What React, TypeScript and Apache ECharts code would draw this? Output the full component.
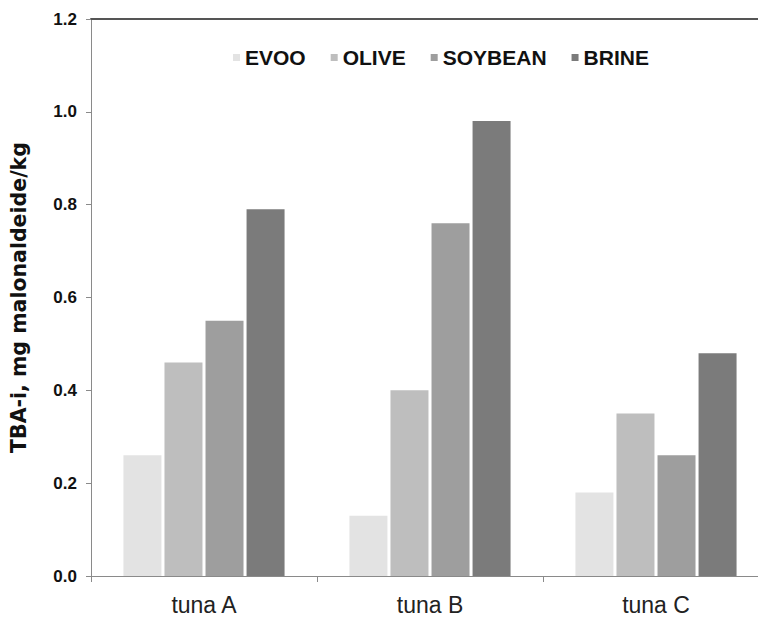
import React, { useEffect, useRef } from "react";
import * as echarts from "echarts";

const categories = ["tuna A", "tuna B", "tuna C"];
const seriesNames = ["EVOO", "OLIVE", "SOYBEAN", "BRINE"];
const evoo = [0.26, 0.13, 0.18];
const olive = [0.46, 0.4, 0.35];
const soybean = [0.55, 0.76, 0.26];
const brine = [0.79, 0.98, 0.48];
const colors = ["#e3e3e3", "#bebebe", "#9e9e9e", "#7b7b7b"];
const yTicks = [0, 0.2, 0.4, 0.6, 0.8, 1.0, 1.2];

export default function App() {
  const ref = useRef<HTMLDivElement>(null);
  useEffect(() => {
    if (!ref.current) return;
    const chart = echarts.init(ref.current, undefined, { renderer: "svg" });
    const values = [evoo, olive, soybean, brine];
    chart.setOption({
      animation: false,
      backgroundColor: "#ffffff",
      textStyle: { fontFamily: "Liberation Sans" },
      grid: {
        left: 91,
        top: 19,
        bottom: 41,
        right: -11,
        containLabel: false,
        outerBoundsMode: "none",
      },
      legend: {
        data: seriesNames,
        left: 228,
        top: 42,
        icon: "rect",
        itemWidth: 7,
        itemHeight: 7,
        itemGap: 25,
        textStyle: {
          fontFamily: "Liberation Sans",
          fontWeight: "bold",
          fontSize: 21,
          color: "#111",
        },
      },
      xAxis: [
        {
          type: "category",
          data: categories,
          position: "bottom",
          axisLine: { lineStyle: { color: "#8a8a8a", width: 1 } },
          axisTick: { show: true, length: 6, lineStyle: { color: "#8a8a8a" } },
          axisLabel: {
            fontFamily: "Liberation Sans",
            fontSize: 23,
            color: "#222",
            margin: 17,
          },
        },
        {
          type: "category",
          data: categories,
          position: "top",
          axisLine: { lineStyle: { color: "#555", width: 2 } },
          axisTick: { show: false },
          axisLabel: { show: false },
        },
      ],
      yAxis: {
        type: "value",
        min: yTicks[0],
        max: yTicks[yTicks.length - 1],
        interval: 0.2,
        name: "TBA-i, mg malonaldeide/kg",
        nameLocation: "middle",
        nameGap: 62,
        nameTextStyle: {
          fontFamily: "DejaVu Sans",
          fontWeight: "bold",
          fontSize: 20.5,
          color: "#111",
        },
        axisLine: { show: true, lineStyle: { color: "#8a8a8a", width: 1 } },
        axisTick: { show: true, length: 5, lineStyle: { color: "#8a8a8a" } },
        splitLine: { show: false },
        axisLabel: {
          fontFamily: "Liberation Sans",
          fontWeight: "bold",
          fontSize: 17,
          color: "#111",
          margin: 14,
          formatter: (v: number) => v.toFixed(1),
        },
      },
      series: seriesNames.map((name, i) => ({
        name,
        type: "bar",
        data: values[i],
        barWidth: 38,
        barGap: "8%",
        itemStyle: { color: colors[i] },
      })),
    });
    return () => chart.dispose();
  }, []);
  return (
    <div
      ref={ref}
      style={{
        position: "fixed",
        left: 0,
        top: 0,
        width: 758,
        height: 617,
        overflow: "hidden",
      }}
    />
  );
}
